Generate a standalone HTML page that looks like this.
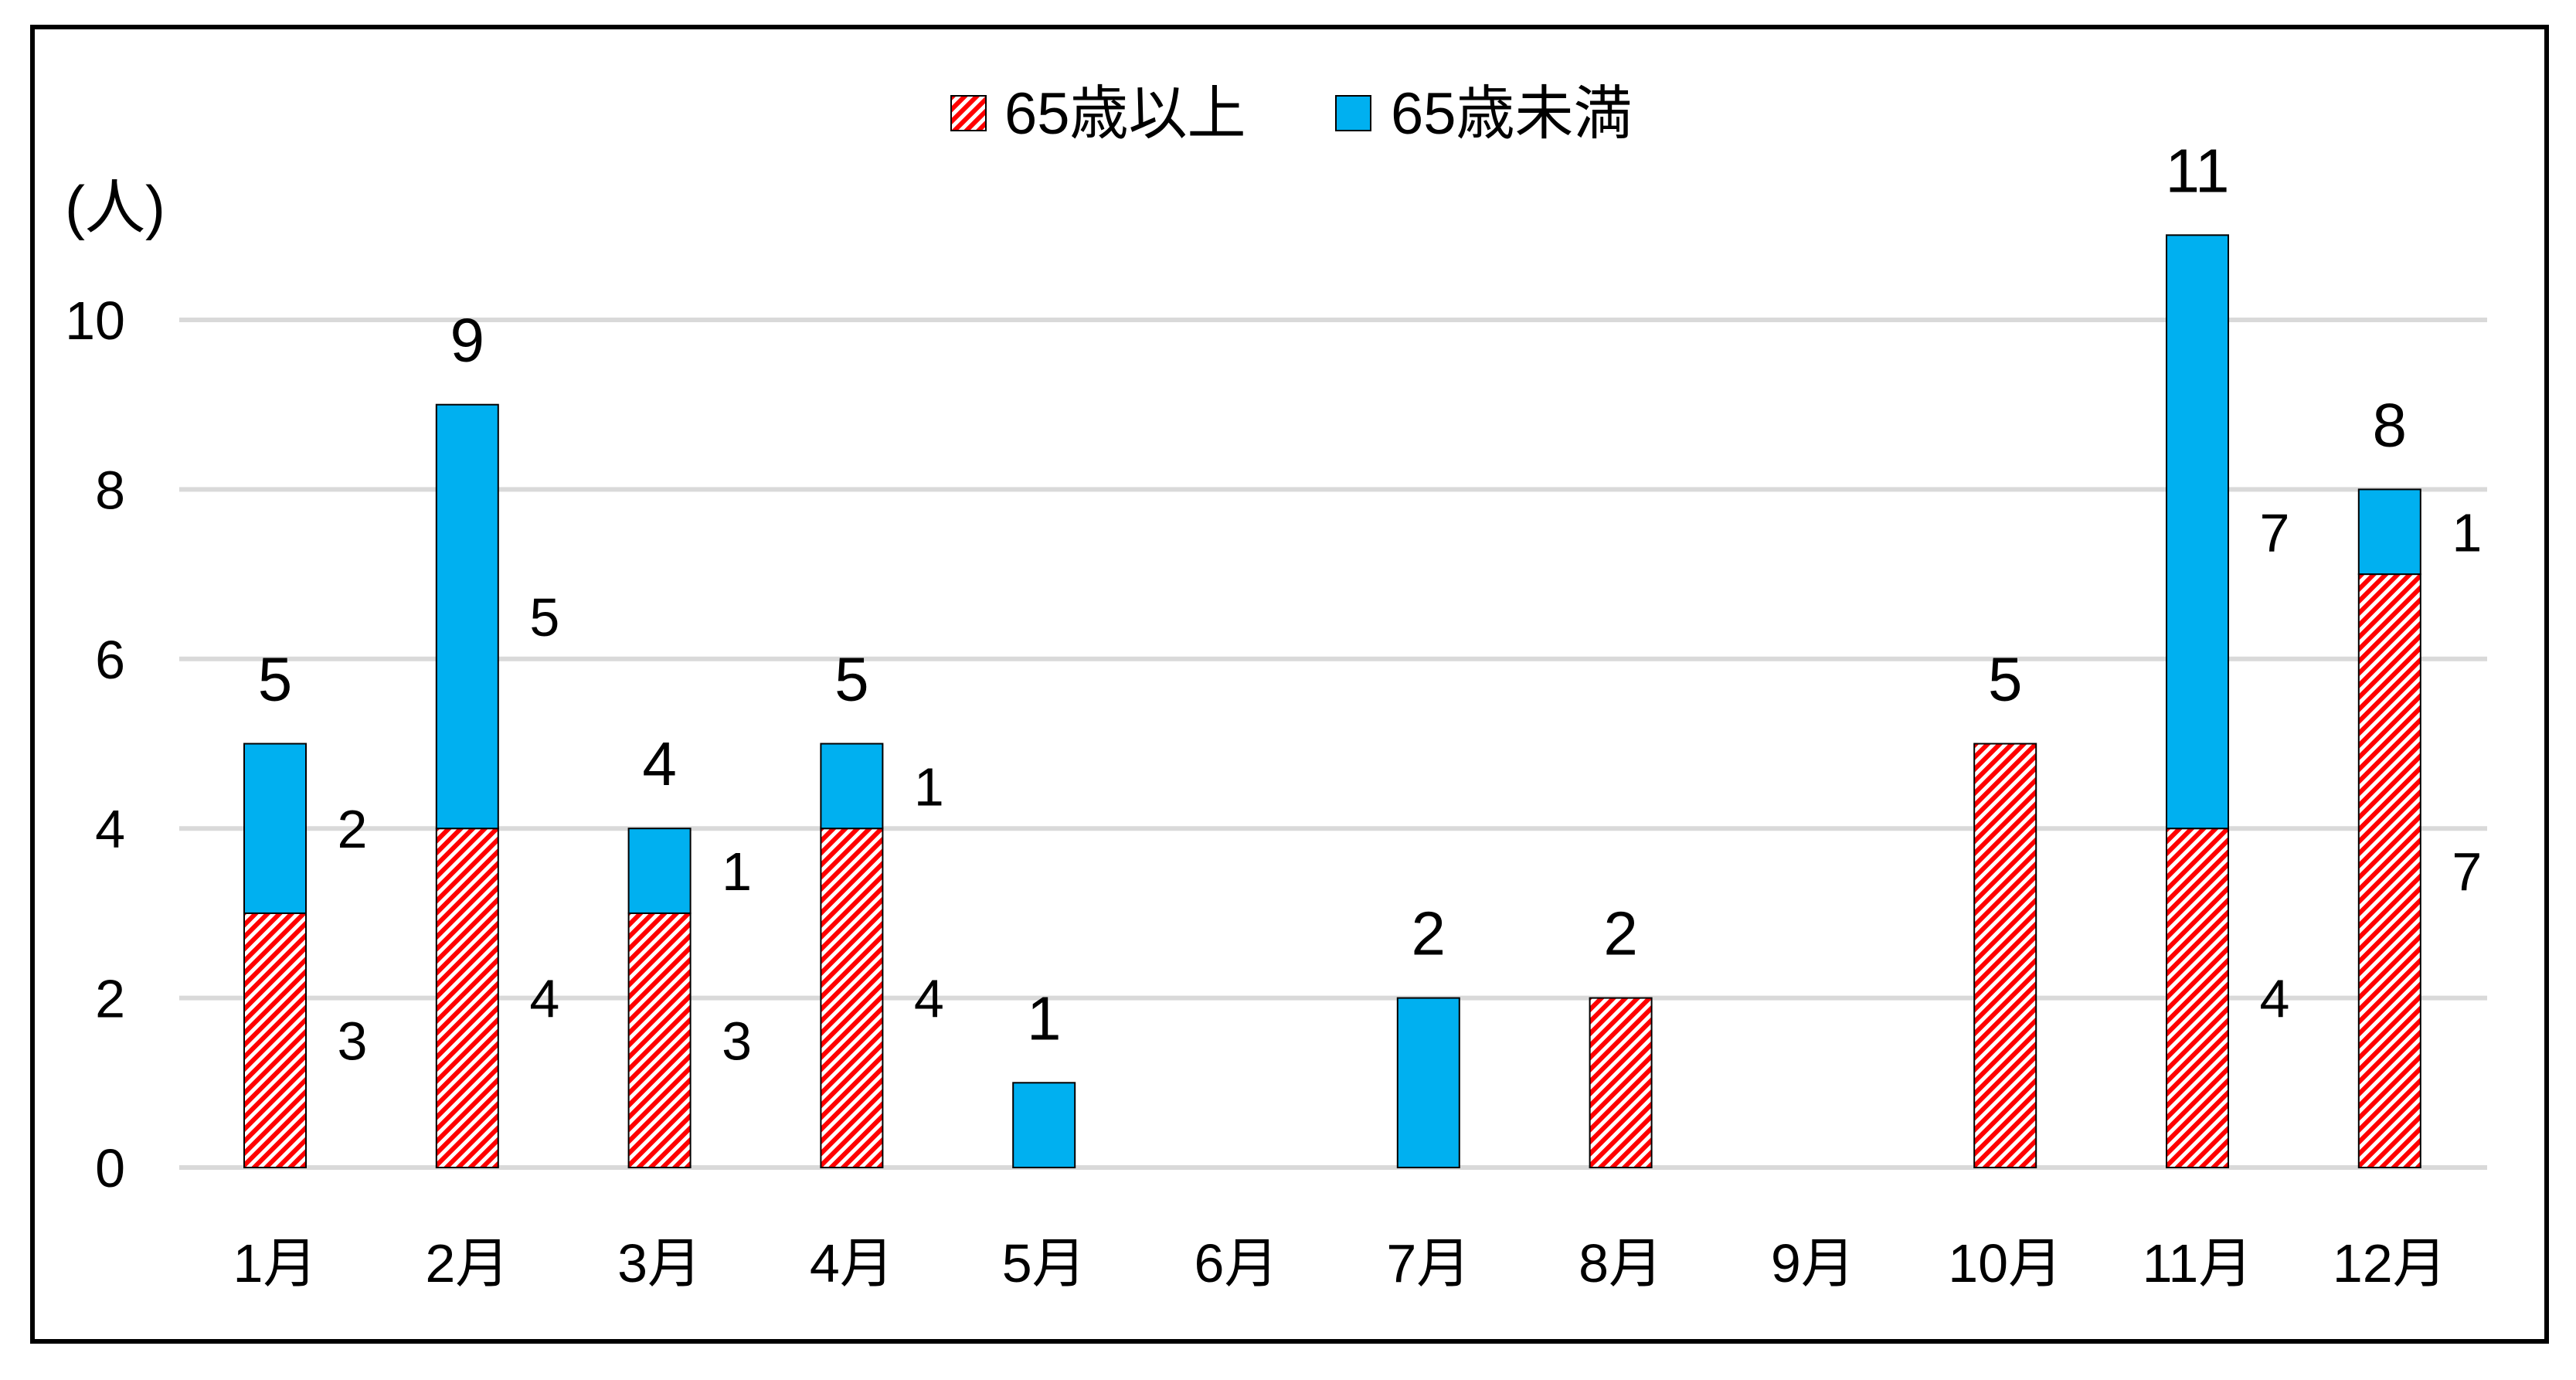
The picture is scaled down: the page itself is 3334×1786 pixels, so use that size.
<!DOCTYPE html>
<html><head><meta charset="utf-8"><style>
html,body{margin:0;padding:0;background:#fff;}
svg text{font-family:"Liberation Sans","Noto Sans CJK JP",sans-serif;fill:#000;}
</style></head><body>
<svg id="chart" width="3334" height="1781" viewBox="0 0 3334 1781" xmlns="http://www.w3.org/2000/svg">
<defs>
<pattern id="hatch" patternUnits="userSpaceOnUse" width="11" height="11" patternTransform="rotate(45)">
<rect width="11" height="11" fill="#fff"/>
<rect width="6" height="11" fill="#ff0000"/>
</pattern>
</defs>
<rect x="42" y="35" width="3254" height="1701" fill="#fff" stroke="#000" stroke-width="6"/>
<g id="grid"></g>
<g id="bars"></g>
<g id="labels"></g>
<text x="84" y="295" font-size="78">(人)</text>
<g>
<rect x="1231" y="124" width="45" height="45" fill="url(#hatch)" stroke="#000" stroke-width="2"/>
<text x="1300" y="173" font-size="76">65歳以上</text>
<rect x="1729" y="124" width="45" height="45" fill="#00b0f0" stroke="#000" stroke-width="2"/>
<text x="1800" y="173" font-size="76">65歳未満</text>
</g>
</svg>
<script>
const categories = ["1月","2月","3月","4月","5月","6月","7月","8月","9月","10月","11月","12月"];
const over65 = [3,4,3,4,0,0,0,2,0,5,4,7];
const under65 = [2,5,1,1,1,0,2,0,0,0,7,1];
const yTicks = [0,2,4,6,8,10];
const segLabelMonths = [0,1,2,3,10,11];

const NS = "http://www.w3.org/2000/svg";
const x0 = 356, step = 248.8, barW = 80;
const yZero = 1511, unit = 109.7;
const xPos = i => x0 + i * step;
const yPos = v => yZero - v * unit;
function mk(tag, attrs, parent){const e=document.createElementNS(NS,tag);for(const k in attrs)e.setAttribute(k,attrs[k]);parent.appendChild(e);return e;}
const grid=document.getElementById('grid'), bars=document.getElementById('bars'), labels=document.getElementById('labels');

yTicks.forEach(t=>{
  const l=mk('line',{x1:232,x2:3219,y1:yPos(t),y2:yPos(t),stroke:'#d9d9d9','stroke-width':6},grid);
  
  
  const tx=mk('text',{x:162,y:yPos(t)+25,'font-size':70,'text-anchor':'end'},grid);
  tx.textContent=t;
  
  
});

categories.forEach((c,i)=>{
  const cx=xPos(i);
  const a=over65[i], b=under65[i];
  if(a>0){
    const r=mk('rect',{x:cx-barW/2,y:yPos(a),width:barW,height:yPos(0)-yPos(a),fill:'url(#hatch)',stroke:'#000','stroke-width':2},bars);
    
    
  }
  if(b>0){
    const r=mk('rect',{x:cx-barW/2,y:yPos(a+b),width:barW,height:yPos(a)-yPos(a+b),fill:'#00b0f0',stroke:'#000','stroke-width':2},bars);
    
    
  }
  const tot=a+b;
  if(tot>0){
    const t=mk('text',{x:cx,y:yPos(tot)-56,'font-size':80,'text-anchor':'middle'},labels);
    t.textContent=tot;
    
    
  }
  if(segLabelMonths.includes(i)){
    if(a>0){
      const t=mk('text',{x:cx+100,y:yPos(a/2)+25,'font-size':70,'text-anchor':'middle'},labels);
      t.textContent=a;
      
      
    }
    if(b>0){
      const t=mk('text',{x:cx+100,y:yPos(a+b/2)+25,'font-size':70,'text-anchor':'middle'},labels);
      t.textContent=b;
      
      
    }
  }
  const xl=mk('text',{x:cx,y:1659,'font-size':70,'text-anchor':'middle'},labels);
  xl.textContent=c;
  
  
});
</script>
</body></html>
